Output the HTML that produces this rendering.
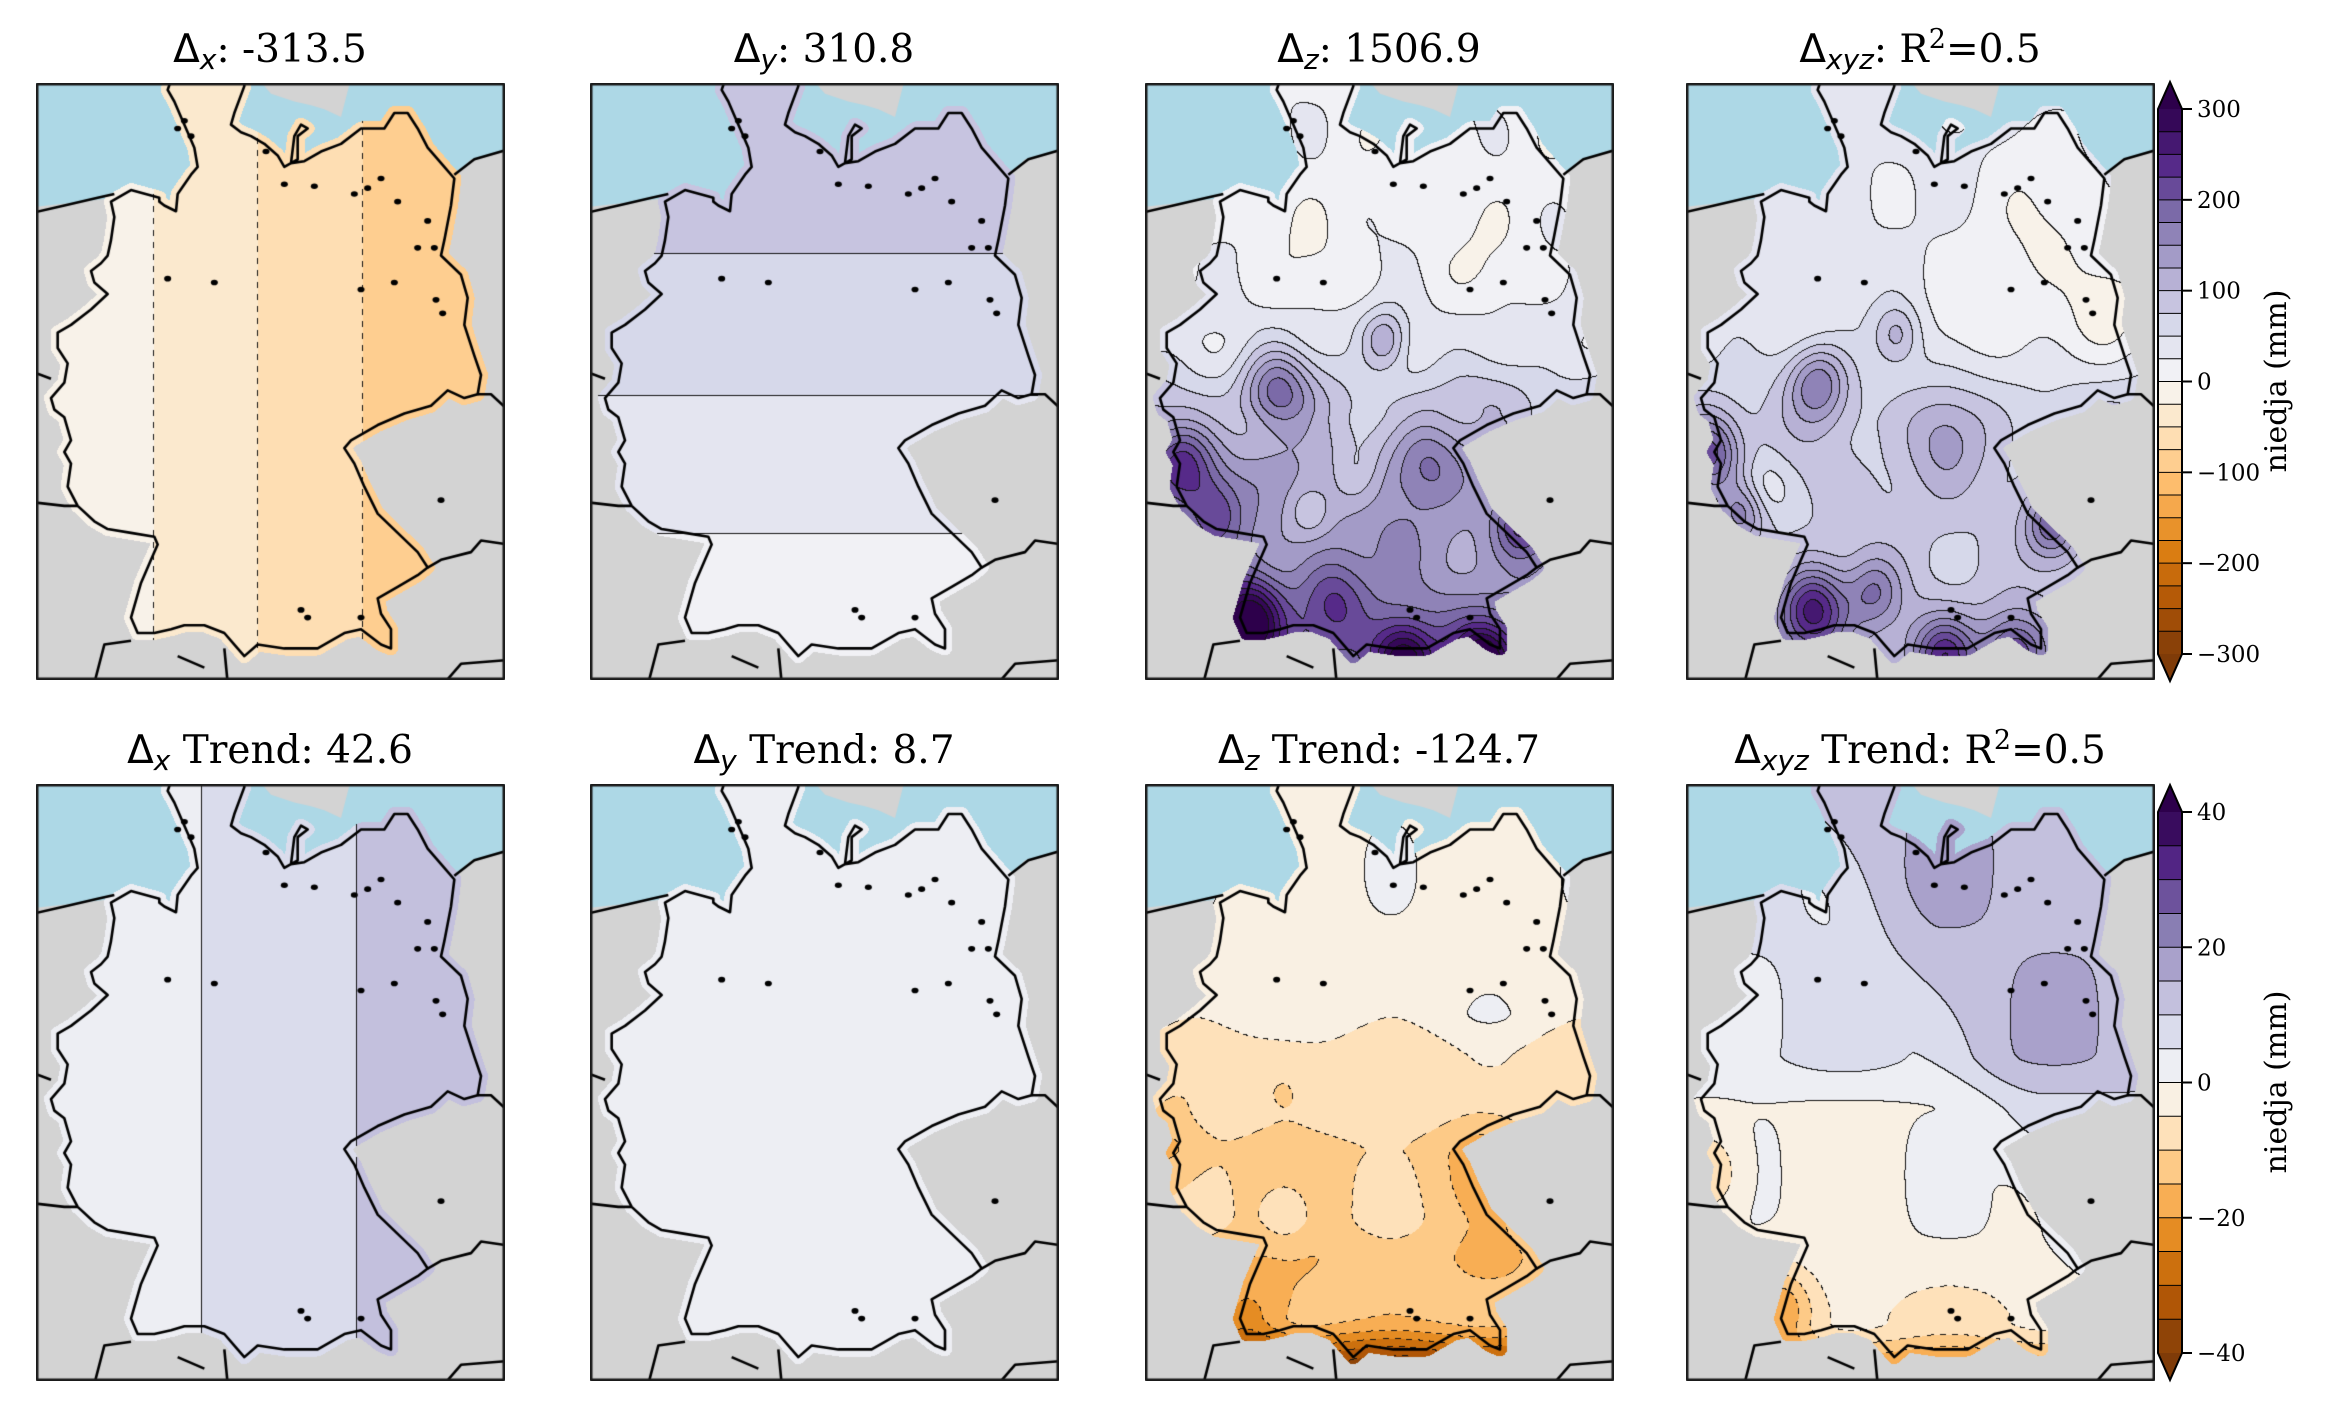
<!DOCTYPE html>
<html><head><meta charset="utf-8">
<style>
html,body{margin:0;padding:0;background:#fff;}
#root{position:relative;width:2348px;height:1417px;overflow:hidden;background:#fff;}
canvas{position:absolute;}
svg{position:absolute;left:0;top:0;}
</style></head>
<body><div id="root">
<canvas id="c0" width="469" height="597" style="left:36px;top:83px"></canvas>
<canvas id="c1" width="469" height="597" style="left:590px;top:83px"></canvas>
<canvas id="c2" width="469" height="597" style="left:1145px;top:83px"></canvas>
<canvas id="c3" width="469" height="597" style="left:1686px;top:83px"></canvas>
<canvas id="c4" width="469" height="597" style="left:36px;top:784px"></canvas>
<canvas id="c5" width="469" height="597" style="left:590px;top:784px"></canvas>
<canvas id="c6" width="469" height="597" style="left:1145px;top:784px"></canvas>
<canvas id="c7" width="469" height="597" style="left:1686px;top:784px"></canvas>
<svg id="ov" width="2348" height="1417" xmlns="http://www.w3.org/2000/svg" font-family="DejaVu Serif, Liberation Serif, serif">
<g font-size="39" text-anchor="middle" fill="#000">
<text x="270" y="62"><tspan font-family="DejaVu Sans">Δ</tspan><tspan font-family="DejaVu Sans" font-style="italic" font-size="28" dy="7">x</tspan><tspan dy="-7">: -313.5</tspan></text>
<text x="824" y="62"><tspan font-family="DejaVu Sans">Δ</tspan><tspan font-family="DejaVu Sans" font-style="italic" font-size="28" dy="7">y</tspan><tspan dy="-7">: 310.8</tspan></text>
<text x="1379" y="62"><tspan font-family="DejaVu Sans">Δ</tspan><tspan font-family="DejaVu Sans" font-style="italic" font-size="28" dy="7">z</tspan><tspan dy="-7">: 1506.9</tspan></text>
<text x="1920" y="62"><tspan font-family="DejaVu Sans">Δ</tspan><tspan font-family="DejaVu Sans" font-style="italic" font-size="28" dy="7">xyz</tspan><tspan dy="-7">: R</tspan><tspan font-size="27" dy="-14">2</tspan><tspan dy="14">=0.5</tspan></text>
<text x="270" y="763"><tspan font-family="DejaVu Sans">Δ</tspan><tspan font-family="DejaVu Sans" font-style="italic" font-size="28" dy="7">x</tspan><tspan dy="-7"> Trend: 42.6</tspan></text>
<text x="824" y="763"><tspan font-family="DejaVu Sans">Δ</tspan><tspan font-family="DejaVu Sans" font-style="italic" font-size="28" dy="7">y</tspan><tspan dy="-7"> Trend: 8.7</tspan></text>
<text x="1379" y="763"><tspan font-family="DejaVu Sans">Δ</tspan><tspan font-family="DejaVu Sans" font-style="italic" font-size="28" dy="7">z</tspan><tspan dy="-7"> Trend: -124.7</tspan></text>
<text x="1920" y="763"><tspan font-family="DejaVu Sans">Δ</tspan><tspan font-family="DejaVu Sans" font-style="italic" font-size="28" dy="7">xyz</tspan><tspan dy="-7"> Trend: R</tspan><tspan font-size="27" dy="-14">2</tspan><tspan dy="14">=0.5</tspan></text>
</g>
<g id="cb"></g>
<g font-size="30" text-anchor="middle">
<text transform="translate(2286,381) rotate(-90)">niedja (mm)</text>
<text transform="translate(2286,1082) rotate(-90)">niedja (mm)</text>
</g>
</svg>
</div>
<script>
(function(){
var W=469,H=597;
var stops=["#7f3b08","#b35806","#e08214","#fdb863","#fee0b6","#f7f7f7","#d8daeb","#b2abd2","#8073ac","#542788","#2d004b"].map(function(h){return [parseInt(h.substr(1,2),16),parseInt(h.substr(3,2),16),parseInt(h.substr(5,2),16)];});
function cmap(t){t=Math.max(0,Math.min(1,t));var p=t*10,i=Math.min(9,Math.floor(p)),f=p-i;var a=stops[i],b=stops[i+1];return [Math.round(a[0]+(b[0]-a[0])*f),Math.round(a[1]+(b[1]-a[1])*f),Math.round(a[2]+(b[2]-a[2])*f)];}
function rgb(c){return "rgb("+c[0]+","+c[1]+","+c[2]+")";}
function X(x){return (x-15)/1407*W;} function Y(y){return (y-12)/1550*H;}
var ger=[[385,320],[400,330],[435,345],[440,300],[480,250],[500,230],[490,180],[470,140],[450,100],[430,60],[410,30],[420,5],[640,5],[640,20],[610,90],[600,120],[630,140],[660,150],[700,170],[740,200],[760,230],[800,210],[800,150],[830,130],[810,120],[790,150],[780,220],[820,215],[870,190],[930,170],[990,130],[1060,130],[1090,90],[1130,90],[1160,130],[1190,180],[1240,230],[1270,260],[1260,330],[1240,420],[1230,460],[1290,510],[1310,570],[1300,640],[1330,720],[1350,770],[1340,820],[1300,830],[1250,810],[1200,850],[1120,870],[1040,900],[960,940],[940,960],[970,1000],[1000,1060],[1040,1130],[1100,1180],[1160,1230],[1190,1270],[1160,1290],[1100,1320],[1040,1350],[1050,1390],[1080,1430],[1080,1480],[1050,1470],[990,1430],[940,1440],[860,1480],[760,1480],[680,1470],[640,1500],[610,1470],[580,1440],[520,1420],[460,1420],[420,1430],[370,1440],[320,1440],[300,1400],[330,1310],[360,1250],[380,1210],[370,1190],[300,1180],[230,1170],[190,1150],[140,1110],[110,1060],[120,1000],[100,970],[120,940],[100,880],[70,860],[60,830],[100,790],[110,740],[80,700],[80,660],[120,640],[180,600],[230,560],[190,530],[180,500],[210,480],[230,460],[240,420],[250,360],[240,320],[300,290],[385,310]];
var sea=[[0,0],[1430,0],[1430,185],[1320,210],[1260,260],[1100,200],[900,200],[700,200],[600,160],[500,300],[440,310],[385,320],[250,310],[150,320],[0,335]];
var dk=[[680,0],[960,0],[930,100],[880,80],[840,70],[790,60],[720,40]];
var lines=[
[[0,350],[100,330],[200,310],[250,300]],
[[0,760],[60,780]],
[[0,1100],[100,1110],[140,1110]],
[[190,1570],[220,1470],[300,1460]],
[[440,1500],[520,1530]],
[[580,1480],[590,1570]],
[[1190,1270],[1230,1250],[1320,1230],[1350,1200],[1430,1210]],
[[1340,820],[1380,820],[1430,860]],
[[1270,250],[1330,210],[1430,185]],
[[1240,1570],[1290,1520],[1430,1510]]
];
var dots=[[410,520],[550,530],[990,548],[1090,530],[1190,370],[1235,610],[1215,575],[1100,320],[1230,1095],[970,300],[1010,285],[850,280],[760,275],[705,190],[1050,260],[1160,440],[1210,440],[460,110],[440,130],[480,150],[810,1380],[830,1400],[990,1400]];
function path(ctx,pts){ctx.beginPath();pts.forEach(function(p,i){var x=X(p[0]),y=Y(p[1]);if(i)ctx.lineTo(x,y);else ctx.moveTo(x,y);});}
function sm(x,a,b){var t=(x-a)/(b-a);t=Math.max(0,Math.min(1,t));return t*t*(3-2*t);}
function g(u,v,cx,cy,s){var d=(u-cx)*(u-cx)+(v-cy)*(v-cy);return Math.exp(-d/(2*s*s));}
var S=Math.sin;
var fields=[
function(u,v){return u<0.251?-10:u<0.473?-35:u<0.696?-60:-85;},
function(u,v){return v<0.286?87:v<0.523?62:v<0.754?37:12;},
function(u,v){return 12+20*sm(v,.3,.42)+50*sm(v,.42,.55)+55*sm(v,.55,.68)+40*sm(v,.8,.95)+110*g(u,v,.28,.51,.05)+90*g(u,v,.51,.43,.035)+120*g(u,v,.08,.63,.05)+70*g(u,v,.15,.72,.04)+180*g(u,v,.22,.9,.05)+80*g(u,v,.4,.86,.05)+170*g(u,v,.55,.97,.045)+170*g(u,v,.72,.97,.045)+100*g(u,v,.8,.74,.04)+60*g(u,v,.6,.62,.05)-60*g(u,v,.45,.66,.04)-40*g(u,v,.35,.72,.03)+15*S(17*u+2)*S(13*v+1)+8*S(31*u)*S(27*v+2);},
function(u,v){return 35+45*sm(v,.4,.58)+30*sm(v,.8,.95)-35*g(u,v,.75,.3,.15)-20*g(u,v,.9,.38,.06)+110*g(u,v,.28,.5,.045)+70*g(u,v,.45,.42,.035)+140*g(u,v,.05,.62,.045)+80*g(u,v,.12,.72,.035)+170*g(u,v,.27,.88,.05)+80*g(u,v,.4,.85,.04)+130*g(u,v,.55,.96,.045)+120*g(u,v,.7,.96,.045)+110*g(u,v,.78,.74,.04)+50*g(u,v,.55,.6,.06)-50*g(u,v,.17,.68,.04)+10*S(19*u)*S(15*v+2)+6*S(29*u+1)*S(25*v);},
function(u,v){return u<0.353?2.5:u<0.683?7.5:12.5;},
function(u,v){return 2.5;},
function(u,v){return -2-5*sm(v,.38,.46)-4*sm(v,.55,.62)-3*sm(v,.72,.8)-22*sm(v,.89,.98)-5*g(u,v,.3,.5,.06)-6*g(u,v,.05,.6,.05)-6*g(u,v,.72,.62,.07)+7*g(u,v,.3,.72,.04)-8*g(u,v,.22,.9,.05)+3*S(15*u)*S(11*v);},
function(u,v){return 5.5+9*sm(u-0.8*v,.1,.35)-6*sm(v,.45,.55)-5*sm(v,.75,.9)-14*sm(v,.9,.98)-10*g(u,v,.05,.65,.05)-14*g(u,v,.2,.88,.05)+2*S(14*u)*S(12*v);}
];
for(var k=0;k<8;k++){
 var top=k<4, vmin=top?-300:-40, step=top?25:5, N=top?24:16;
 var cv=document.getElementById("c"+k), ctx=cv.getContext("2d");
 ctx.fillStyle="#d3d3d3";ctx.fillRect(0,0,W,H);
 ctx.fillStyle="#add8e6";path(ctx,sea);ctx.closePath();ctx.fill();
 ctx.fillStyle="#d3d3d3";path(ctx,dk);ctx.closePath();ctx.fill();
 var mc=document.createElement("canvas");mc.width=W;mc.height=H;var m=mc.getContext("2d");
 m.fillStyle="#000";m.strokeStyle="#000";m.lineWidth=14;m.lineJoin="round";path(m,ger);m.closePath();m.fill();m.stroke();
 var md=m.getImageData(0,0,W,H).data;
 var img=ctx.getImageData(0,0,W,H),d=img.data;
 var band=new Int16Array(W*H),f=fields[k];
 var cols=[];for(var i=-1;i<=N;i++){var t=i<0?0:i>=N?1:(i+0.5)/N;cols.push(cmap(t));}
 for(var y=0;y<H;y++)for(var x=0;x<W;x++){var p=y*W+x;if(md[p*4+3]<128){band[p]=-99;continue;}
  var val=f(x/W,y/H);var b=Math.floor((val-vmin)/step);if(b<-1)b=-1;if(b>N)b=N;band[p]=b;var c=cols[b+1];d[p*4]=c[0];d[p*4+1]=c[1];d[p*4+2]=c[2];}
 for(var y=0;y<H-1;y++)for(var x=0;x<W-1;x++){var p=y*W+x;if(band[p]==-99)continue;var b=band[p],br=band[p+1],bd=band[p+W],other=null;
  if(br!=-99&&br!=b)other=br;else if(bd!=-99&&bd!=b)other=bd;if(other===null)continue;
  var lev=vmin+Math.max(b,other)*step;
  if(lev<0&&(Math.floor((x+y)/6)%2==1))continue;
  d[p*4]=20;d[p*4+1]=20;d[p*4+2]=20;}
 ctx.putImageData(img,0,0);
 ctx.strokeStyle="#000";ctx.lineWidth=2.6;ctx.lineJoin="round";
 path(ctx,ger);ctx.closePath();ctx.stroke();
 lines.forEach(function(l){path(ctx,l);ctx.stroke();});
 ctx.fillStyle="#000";dots.forEach(function(p){ctx.beginPath();ctx.ellipse(X(p[0]),Y(p[1]),3.5,2.8,0,0,6.3);ctx.fill();});
 ctx.strokeStyle="#1a1a1a";ctx.lineWidth=2.5;ctx.strokeRect(1.25,1.25,W-2.5,H-2.5);
}
var cb=document.getElementById("cb"),s="";
function bar(y0,y1,N,labels){
 var h=(y1-y0)/N;
 for(var i=0;i<N;i++){var c=cmap((i+0.5)/N);var yy=y1-(i+1)*h;s+='<rect x="2158" y="'+yy.toFixed(2)+'" width="24" height="'+(h+0.3).toFixed(2)+'" fill="'+rgb(c)+'"/>';
  if(i>0)s+='<line x1="2158" x2="2182" y1="'+(y1-i*h).toFixed(2)+'" y2="'+(y1-i*h).toFixed(2)+'" stroke="#000" stroke-width="1"/>';}
 s+='<polygon points="2158,'+y0+' 2182,'+y0+' 2170,'+(y0-27)+'" fill="'+rgb(cmap(1))+'"/>';
 s+='<polygon points="2158,'+y1+' 2182,'+y1+' 2170,'+(y1+27)+'" fill="'+rgb(cmap(0))+'"/>';
 s+='<polygon points="2158,'+y0+' 2170,'+(y0-27)+' 2182,'+y0+' 2182,'+y1+' 2170,'+(y1+27)+' 2158,'+y1+'" fill="none" stroke="#000" stroke-width="2"/>';
 labels.forEach(function(L,i){var yy=y0+(y1-y0)*i/(labels.length-1);s+='<line x1="2182" x2="2192" y1="'+yy+'" y2="'+yy+'" stroke="#000" stroke-width="2"/>';
  s+='<text x="2197" y="'+(yy+8)+'" font-size="23">'+L+'</text>';});
}
bar(109,654,24,["300","200","100","0","\u2212100","\u2212200","\u2212300"]);
bar(812,1353,16,["40","20","0","\u221220","\u221240"]);
cb.innerHTML=s;
})();
</script>
</body></html>
